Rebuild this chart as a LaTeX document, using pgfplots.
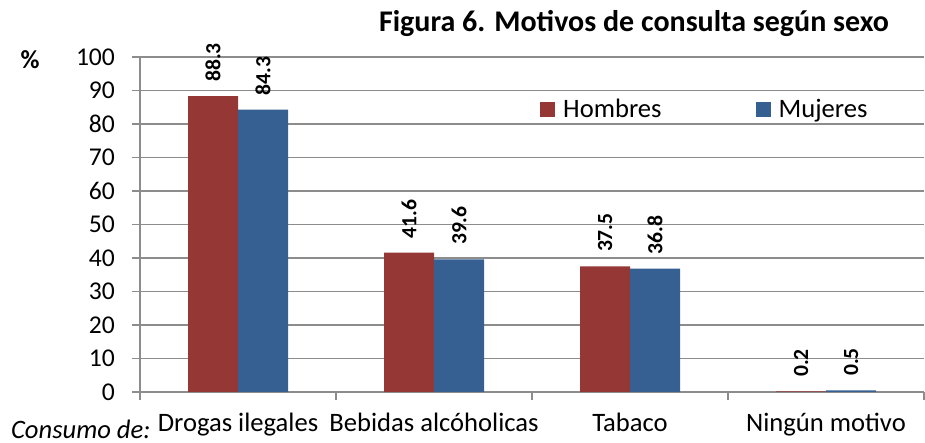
\documentclass[border=0pt]{standalone}
\usepackage{pgfplots}
\pgfplotsset{compat=1.18}
\usepackage{fontspec}
\setmainfont{Carlito}
\definecolor{hom}{RGB}{149,55,53}
\definecolor{muj}{RGB}{55,96,146}
\definecolor{gridc}{RGB}{140,140,140}
\begin{document}
\begin{tikzpicture}
\useasboundingbox (-70pt,-25.5pt) rectangle (392.5pt,196pt);
\begin{axis}[
  at={(0pt,0pt)}, anchor=south west,
  scale only axis, width=392pt, height=167.5pt,
  ymin=0, ymax=100, ytick={0,10,...,100},
  xmin=-0.5, xmax=3.5,
  xtick={-0.5,0.5,1.5,2.5,3.5}, xticklabels={},
  extra x ticks={0,1,2,3},
  extra x tick labels={Drogas ilegales, Bebidas alcóholicas, Tabaco, Ningún motivo},
  extra x tick style={major tick length=0pt, grid=none},
  tick align=outside, major tick length=4pt,
  axis x line*=bottom, axis y line*=left,
  axis line style={draw=gridc, line width=0.8pt, -},
  tick style={draw=gridc, line width=0.8pt},
  ymajorgrids, grid style={draw=gridc, line width=0.8pt},
  /pgf/number format/assume math mode=true,
  yticklabel style={font=\fontsize{12.8}{14}\selectfont, xshift=-5pt},
  xticklabel style={font=\fontsize{13.3}{15}\selectfont, yshift=-7pt},
  ybar=0pt, bar width=25pt,
  nodes near coords={\pgfmathprintnumber[fixed,fixed zerofill,precision=1,assume math mode=true]{\pgfplotspointmeta}},
  nodes near coords style={rotate=90, anchor=west, inner xsep=7pt, font=\bfseries\fontsize{10.8}{12}\selectfont, text=black},
  legend style={at={(rel axis cs:0.51,0.842)}, anchor=west, draw=none, fill=none, inner sep=0pt,
    legend columns=2, font=\fontsize{13.3}{15}\selectfont,
    nodes={inner xsep=4pt},
    /tikz/every even column/.append style={column sep=43pt}},
]
\addplot[fill=hom, draw=none, legend image code/.code={\fill[hom] (0pt,-3.75pt) rectangle (7.5pt,3.75pt);}]
  coordinates {(0,88.3) (1,41.6) (2,37.5) (3,0.2)};
\addplot[fill=muj, draw=none, legend image code/.code={\fill[muj] (0pt,-3.75pt) rectangle (7.5pt,3.75pt);}]
  coordinates {(0,84.3) (1,39.6) (2,36.8) (3,0.5)};
\legend{Hombres, Mujeres}
\end{axis}
\node[font=\bfseries\fontsize{15}{17}\selectfont] at (247pt,184pt) {Figura 6. Motivos de consulta según sexo};
\node[font=\bfseries\fontsize{13}{15}\selectfont] at (-55pt,166pt) {\%};
\node[font=\itshape\fontsize{13.3}{15}\selectfont, anchor=west] at (-68pt,-18.5pt) {Consumo de:};
\end{tikzpicture}
\end{document}
